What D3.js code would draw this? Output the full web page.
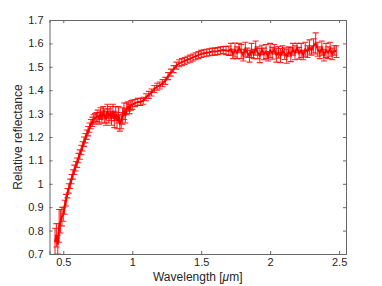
<!DOCTYPE html>
<html><head><meta charset="utf-8">
<script src="https://cdn.jsdelivr.net/npm/d3@7"></script>
<style>body{margin:0;background:#fff}svg{display:block}text{font-family:"Liberation Sans",Arial,sans-serif}</style>
</head><body>
<svg id="c" width="382" height="286"></svg>
<script>
const wavelength = [
0.44,0.45,0.46,0.47,0.48,0.49,0.50,0.51,0.52,0.53,0.54,0.55,0.56,0.57,0.58,0.59,0.60,0.61,0.62,0.63,0.64,0.65,0.66,0.67,0.68,0.69,0.70,0.71,0.72,0.73,0.74,0.75,0.76,0.77,0.78,0.79,0.80,0.81,0.82,0.83,0.84,0.85,0.86,0.87,0.88,0.89,0.90,0.91,0.92,0.93,0.94,0.95,0.96,0.97,0.98,0.99,1.00,
1.02,1.04,1.06,1.08,1.10,1.12,1.14,1.16,1.18,1.20,1.22,1.24,1.26,1.28,1.30,1.32,1.34,1.36,1.38,1.40,1.42,1.44,1.46,1.48,1.50,1.52,1.54,1.56,1.58,1.60,1.62,1.64,1.66,1.68,
1.700,1.715,1.730,1.745,1.760,1.775,1.790,1.805,1.820,1.835,1.850,1.865,1.880,1.895,1.910,1.925,1.940,1.955,1.970,1.985,2.000,2.015,2.030,2.045,2.060,2.075,2.090,2.105,2.120,2.135,2.150,2.165,2.180,2.195,2.210,2.225,2.240,2.255,2.270,2.285,2.300,2.315,2.330,2.345,2.360,2.375,2.390,2.405,2.420,2.435,2.450,2.465,2.480];
const reflectance = [
0.75,0.78,0.74,0.82,0.84,0.86,0.87,0.90,0.93,0.96,0.98,1.00,1.02,1.04,1.06,1.075,1.09,1.11,1.125,1.145,1.16,1.18,1.195,1.21,1.225,1.24,1.255,1.265,1.275,1.28,1.285,1.29,1.28,1.30,1.285,1.305,1.29,1.28,1.31,1.29,1.30,1.28,1.31,1.275,1.30,1.27,1.295,1.26,1.27,1.29,1.31,1.29,1.32,1.33,1.32,1.335,1.338,
1.345,1.35,1.35,1.355,1.37,1.38,1.39,1.405,1.415,1.42,1.43,1.44,1.46,1.475,1.49,1.505,1.515,1.52,1.525,1.53,1.535,1.54,1.545,1.55,1.555,1.558,1.56,1.562,1.565,1.565,1.567,1.57,1.572,1.57,
1.568,1.575,1.555,1.572,1.560,1.580,1.565,1.550,1.575,1.560,1.545,1.570,1.555,1.580,1.560,1.548,1.572,1.555,1.565,1.545,1.570,1.558,1.575,1.550,1.562,1.548,1.570,1.556,1.545,1.565,1.552,1.575,1.560,1.580,1.558,1.570,1.550,1.575,1.565,1.585,1.570,1.590,1.600,1.575,1.560,1.580,1.550,1.570,1.560,1.575,1.555,1.570,1.565];
const errorBar = [
0.06,0.05,0.04,0.07,0.05,0.04,0.03,0.03,0.025,0.02,0.02,0.02,0.02,0.02,0.02,0.02,0.02,0.02,0.02,0.02,0.02,0.02,0.02,0.02,0.02,0.02,0.02,0.02,0.02,0.02,0.02,0.025,0.025,0.025,0.025,0.025,0.03,0.03,0.03,0.03,0.03,0.03,0.03,0.035,0.03,0.035,0.035,0.035,0.035,0.035,0.035,0.03,0.025,0.02,0.02,0.02,0.02,
0.015,0.015,0.015,0.015,0.015,0.015,0.015,0.015,0.015,0.015,0.015,0.015,0.015,0.015,0.015,0.015,0.015,0.015,0.015,0.015,0.015,0.015,0.015,0.015,0.015,0.015,0.015,0.015,0.015,0.015,0.015,0.015,0.015,0.018,
0.02,0.025,0.02,0.03,0.025,0.02,0.03,0.025,0.03,0.02,0.025,0.03,0.02,0.03,0.025,0.03,0.02,0.025,0.03,0.02,0.03,0.025,0.02,0.03,0.025,0.03,0.02,0.025,0.03,0.02,0.03,0.025,0.03,0.02,0.025,0.03,0.02,0.03,0.025,0.03,0.02,0.03,0.045,0.03,0.025,0.03,0.025,0.03,0.025,0.03,0.025,0.02,0.025];
const xTicks = [0.5,1,1.5,2,2.5];
const yTicks = [0.7,0.8,0.9,1,1.1,1.2,1.3,1.4,1.5,1.6,1.7];

const svg = d3.select("#c");
const L=49.5,R=346,T=20,B=254;
const x = d3.scaleLinear().domain([0.4,2.55]).range([L,R]);
const y = d3.scaleLinear().domain([0.7,1.7]).range([B,T]);
const data = wavelength.map((w,i)=>({w,v:reflectance[i],e:errorBar[i]}));
const axisColor="#666", textColor="#262626";

const plot = svg.append("g");
plot.append("defs").append("clipPath").attr("id","clip").append("rect").attr("x",L).attr("y",T).attr("width",R-L).attr("height",B-T);
const g = plot.append("g").attr("clip-path","url(#clip)");
const red="#ff0000", cap=3;
g.selectAll("path.eb").data(data).join("path").attr("class","eb")
 .attr("d",d=>{const X=x(d.w),y1=y(d.v-d.e),y2=y(d.v+d.e);
   return `M${X},${y1}V${y2}M${X-cap},${y1}H${X+cap}M${X-cap},${y2}H${X+cap}`;})
 .attr("stroke",red).attr("stroke-width",1.1).attr("fill","none").attr("opacity",0.85);
g.append("path").datum(data).attr("d",d3.line().x(d=>x(d.w)).y(d=>y(d.v)))
 .attr("stroke",red).attr("stroke-width",2).attr("fill","none");

// axes
const ax = svg.append("g");
ax.append("g").attr("transform",`translate(0,${B})`).call(d3.axisBottom(x).tickValues(xTicks).tickSize(-3).tickPadding(4).tickFormat(d3.format("")));
ax.append("g").attr("transform",`translate(0,${T})`).call(d3.axisTop(x).tickValues(xTicks).tickSize(-3).tickFormat(""));
ax.append("g").attr("transform",`translate(${L},0)`).call(d3.axisLeft(y).tickValues(yTicks).tickSize(-3).tickPadding(6).tickFormat(d3.format("")));
ax.append("g").attr("transform",`translate(${R},0)`).call(d3.axisRight(y).tickValues(yTicks).tickSize(-3).tickFormat(""));
ax.selectAll(".domain").attr("stroke",axisColor);
ax.selectAll(".tick line").attr("stroke",axisColor);
ax.selectAll(".tick text").attr("fill",textColor).style("font-size","11px").style("font-family","Liberation Sans, Arial, sans-serif");

svg.append("text").attr("x",(L+R)/2).attr("y",281).attr("text-anchor","middle").attr("fill",textColor)
 .style("font-size","12px").html('Wavelength [<tspan font-style="italic">μ</tspan>m]');
svg.append("text").attr("transform",`translate(22,${(T+B)/2}) rotate(-90)`).attr("text-anchor","middle").attr("fill",textColor)
 .style("font-size","12px").text("Relative reflectance");
</script>
</body></html>
